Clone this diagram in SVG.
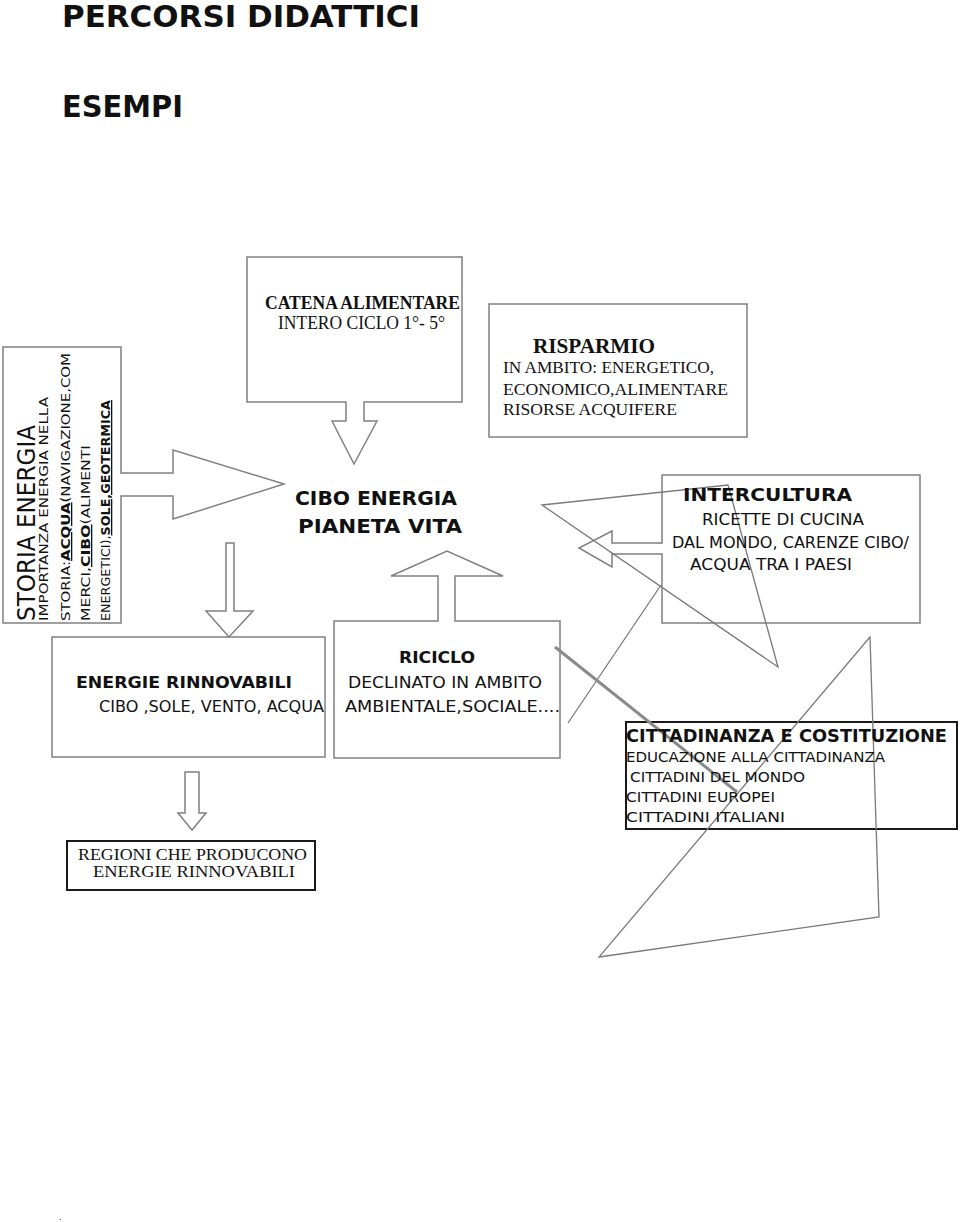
<svg xmlns="http://www.w3.org/2000/svg" width="960" height="1222" viewBox="0 0 960 1222">
<style>
.box{fill:#fff;stroke:#808080;stroke-width:1.5}
.bbox{fill:#fff;stroke:#1a1a1a;stroke-width:2}
.arr{fill:#fff;stroke:#808080;stroke-width:1.5}
.ln{fill:none;stroke:#7a7a7a;stroke-width:1.3}
.thick{fill:none;stroke:#8a8a8a;stroke-width:3}
.c{font-family:"DejaVu Sans","Liberation Sans",sans-serif;fill:#111}
.cb{font-family:"DejaVu Sans","Liberation Sans",sans-serif;font-weight:bold;fill:#111}
.t{font-family:"Liberation Serif","Times New Roman",serif;fill:#111}
.tb{font-family:"Liberation Serif","Times New Roman",serif;font-weight:bold;fill:#111}
.u{text-decoration:underline}
</style>
<rect width="960" height="1222" fill="#fff"/>

<g id="title">
<text class="cb" x="62" y="27" font-size="30" textLength="358" lengthAdjust="spacingAndGlyphs">PERCORSI DIDATTICI</text>
</g>
<g id="esempi">
<text class="cb" x="62" y="117" font-size="30" textLength="121" lengthAdjust="spacingAndGlyphs">ESEMPI</text>
</g>

<g id="storia">
<path class="box" d="M121,347 V473 H173 V450 L284,484 L173,519 V496 H121 V623 H3 V347 Z"/>
<text class="c" transform="translate(35,621) rotate(-90)" font-size="24" textLength="196" lengthAdjust="spacingAndGlyphs">STORIA ENERGIA</text>
<text class="c" transform="translate(48,621) rotate(-90)" font-size="13" textLength="224" lengthAdjust="spacingAndGlyphs">IMPORTANZA ENERGIA NELLA</text>
<text class="c" transform="translate(70,621) rotate(-90)" font-size="13" textLength="268" lengthAdjust="spacingAndGlyphs">STORIA:<tspan class="u" font-weight="bold">ACQUA</tspan>(NAVIGAZIONE,COM</text>
<text class="c" transform="translate(90,621) rotate(-90)" font-size="13" textLength="176" lengthAdjust="spacingAndGlyphs">MERCI,<tspan class="u" font-weight="bold">CIBO</tspan>(ALIMENTI</text>
<text class="c" transform="translate(110,621) rotate(-90)" font-size="13" textLength="221" lengthAdjust="spacingAndGlyphs">ENERGETICI),<tspan class="u" font-weight="bold">SOLE,GEOTERMICA</tspan></text>
</g>

<g id="catena">
<path class="box" d="M247,257 H462 V402 H364 V421 H377 L354,464 L332,421 H346 V402 H247 Z"/>
<text class="tb" x="265" y="309" font-size="18" textLength="195" lengthAdjust="spacingAndGlyphs">CATENA ALIMENTARE</text>
<text class="t" x="278" y="329" font-size="18" textLength="167" lengthAdjust="spacingAndGlyphs">INTERO CICLO 1°- 5°</text>
</g>

<g id="risparmio">
<rect class="box" x="489" y="304" width="258" height="133"/>
<text class="tb" x="533" y="353" font-size="20" textLength="122" lengthAdjust="spacingAndGlyphs">RISPARMIO</text>
<text class="t" x="503" y="373" font-size="17" textLength="211" lengthAdjust="spacingAndGlyphs">IN AMBITO: ENERGETICO,</text>
<text class="t" x="503" y="395" font-size="17" textLength="225" lengthAdjust="spacingAndGlyphs">ECONOMICO,ALIMENTARE</text>
<text class="t" x="503" y="415" font-size="17" textLength="174" lengthAdjust="spacingAndGlyphs">RISORSE ACQUIFERE</text>
</g>

<g id="centro">
<text class="cb" x="295" y="505" font-size="20" textLength="162" lengthAdjust="spacingAndGlyphs">CIBO ENERGIA</text>
<text class="cb" x="298" y="533" font-size="20" textLength="164" lengthAdjust="spacingAndGlyphs">PIANETA VITA</text>
</g>

<g id="intercultura">
<path class="box" d="M662,543 V475 H920 V623 H662 V554 H612 V567 L579,548 L612,531 V543 Z"/>
</g>

<g id="energie">
<rect class="box" x="52" y="637" width="273" height="120"/>
<text class="cb" x="76" y="688" font-size="16" textLength="216" lengthAdjust="spacingAndGlyphs">ENERGIE RINNOVABILI</text>
<text class="c" x="99" y="712" font-size="16" textLength="225" lengthAdjust="spacingAndGlyphs">CIBO ,SOLE, VENTO, ACQUA</text>
</g>

<g id="riciclo">
<path class="box" d="M334,621 H438 V576 H391 L447,551 L503,576 H455 V621 H560 V758 H334 Z"/>
<text class="cb" x="399" y="663" font-size="16" textLength="76" lengthAdjust="spacingAndGlyphs">RICICLO</text>
<text class="c" x="348" y="688" font-size="16" textLength="194" lengthAdjust="spacingAndGlyphs">DECLINATO IN AMBITO</text>
<text class="c" x="345" y="712" font-size="16" textLength="215" lengthAdjust="spacingAndGlyphs">AMBIENTALE,SOCIALE....</text>
</g>

<g id="regioni">
<rect class="bbox" x="67" y="841" width="248" height="49" stroke-width="1.5"/>
<text class="t" x="78" y="860" font-size="16" textLength="229" lengthAdjust="spacingAndGlyphs">REGIONI CHE PRODUCONO</text>
<text class="t" x="93" y="877" font-size="16" textLength="202" lengthAdjust="spacingAndGlyphs">ENERGIE RINNOVABILI</text>
</g>

<g id="cittadinanza">
<rect class="bbox" x="626" y="722" width="331" height="107"/>
</g>

<g id="connectors">
<path class="arr" d="M226,543 H234 V611 H253 L229,637 L206,611 H226 Z"/>
<path class="arr" d="M185,772 H199 V813 H206 L192,830 L178,813 H185 Z"/>
<polygon class="ln" points="542,505 728,485 778,667"/>
<line class="ln" x1="661" y1="585" x2="568" y2="723"/>
<line class="thick" x1="555" y1="647" x2="737" y2="792"/>
<polygon class="ln" points="870,637 879,917 599,957"/>
</g>

<g id="intercultura-text">
<text class="cb" x="683" y="501" font-size="18" textLength="169" lengthAdjust="spacingAndGlyphs">INTERCULTURA</text>
<text class="c" x="702" y="525" font-size="15" textLength="162" lengthAdjust="spacingAndGlyphs">RICETTE DI CUCINA</text>
<text class="c" x="672" y="548" font-size="15" textLength="237" lengthAdjust="spacingAndGlyphs">DAL MONDO, CARENZE CIBO/</text>
<text class="c" x="690" y="570" font-size="15" textLength="162" lengthAdjust="spacingAndGlyphs">ACQUA TRA I PAESI</text>
</g>

<g id="cittadinanza-text">
<text class="cb" x="626" y="742" font-size="18" textLength="321" lengthAdjust="spacingAndGlyphs">CITTADINANZA E COSTITUZIONE</text>
<text class="c" x="626" y="762" font-size="14" textLength="259" lengthAdjust="spacingAndGlyphs">EDUCAZIONE ALLA CITTADINANZA</text>
<text class="c" x="630" y="782" font-size="14" textLength="175" lengthAdjust="spacingAndGlyphs">CITTADINI DEL MONDO</text>
<text class="c" x="626" y="802" font-size="14" textLength="149" lengthAdjust="spacingAndGlyphs">CITTADINI EUROPEI</text>
<text class="c" x="626" y="822" font-size="14" textLength="159" lengthAdjust="spacingAndGlyphs">CITTADINI ITALIANI</text>
</g>

<g id="footer">
<text class="c" x="59" y="1220" font-size="8">.</text>
</g>
</svg>
